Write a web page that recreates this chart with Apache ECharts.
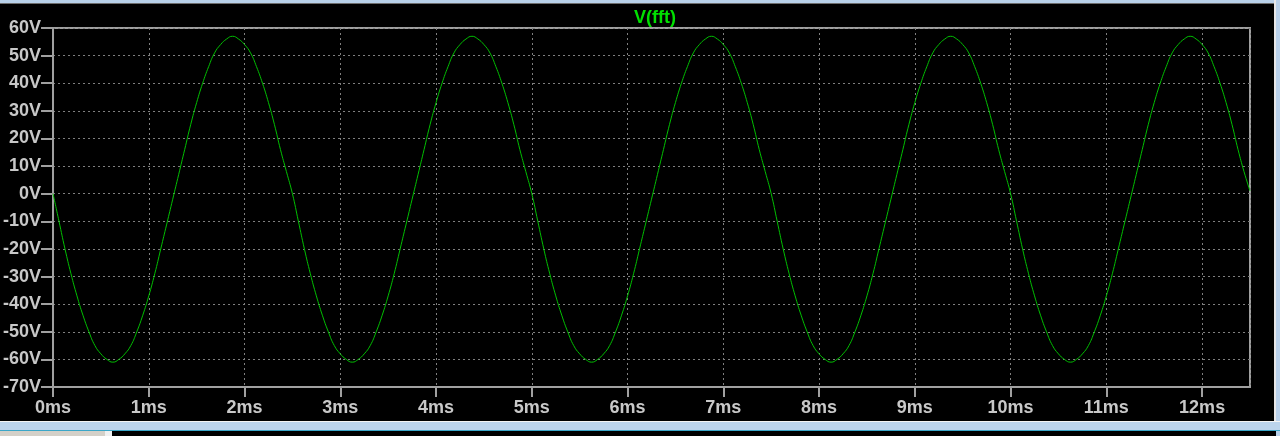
<!DOCTYPE html>
<html>
<head>
<meta charset="utf-8">
<script src="https://cdn.jsdelivr.net/npm/echarts@6/dist/echarts.min.js"></script>
<style>
  html, body { margin: 0; padding: 0; background: #000; }
  #main { position: absolute; left: 0; top: 0; width: 1280px; height: 436px; }
  .bar { position: absolute; }
</style>
</head>
<body>
<div id="main"></div>
<!-- window chrome around the plot -->
<div class="bar" style="left:0;top:0;width:1280px;height:3px;background:#b9d1ea"></div>
<div class="bar" style="left:0;top:3px;width:1274px;height:1px;background:#6d6d6d"></div>
<div class="bar" style="left:1274px;top:0;width:2px;height:422px;background:#e8e8e8"></div>
<div class="bar" style="left:1276px;top:0;width:4px;height:436px;background:#b9d1ea"></div>
<div class="bar" style="left:0;top:421px;width:1280px;height:1px;background:#f4f4f4"></div>
<div class="bar" style="left:0;top:422px;width:1280px;height:8px;background:#bcd4ec"></div>
<div class="bar" style="left:0;top:430px;width:1280px;height:1px;background:#3aa6c8"></div>
<div class="bar" style="left:0;top:431px;width:105px;height:5px;background:#d4d0c8"></div>
<div class="bar" style="left:105px;top:431px;width:7px;height:5px;background:#f0f0f0"></div>
<script>
// sample times in ms, one every 0.0625 ms from 0 to 12.5
const timeMs = []
for (let i = 0; i <= 200; i++) timeMs.push(i * 0.0625)

// voltage at those times
const volts = [
  0, -10, -20, -29, -37, -44, -50, -55, -58, -60,
  -61, -60, -58, -55, -50, -44, -37, -29, -20, -11,
  -2, 7, 16, 25, 33, 40, 46, 51, 54, 56,
  57, 56, 54, 51, 46, 40, 33, 25, 16, 8,
  0, -10, -20, -29, -37, -44, -50, -55, -58, -60,
  -61, -60, -58, -55, -50, -44, -37, -29, -20, -11,
  -2, 7, 16, 25, 33, 40, 46, 51, 54, 56,
  57, 56, 54, 51, 46, 40, 33, 25, 16, 8,
  0, -10, -20, -29, -37, -44, -50, -55, -58, -60,
  -61, -60, -58, -55, -50, -44, -37, -29, -20, -11,
  -2, 7, 16, 25, 33, 40, 46, 51, 54, 56,
  57, 56, 54, 51, 46, 40, 33, 25, 16, 8,
  0, -10, -20, -29, -37, -44, -50, -55, -58, -60,
  -61, -60, -58, -55, -50, -44, -37, -29, -20, -11,
  -2, 7, 16, 25, 33, 40, 46, 51, 54, 56,
  57, 56, 54, 51, 46, 40, 33, 25, 16, 8,
  0, -10, -20, -29, -37, -44, -50, -55, -58, -60,
  -61, -60, -58, -55, -50, -44, -37, -29, -20, -11,
  -2, 7, 16, 25, 33, 40, 46, 51, 54, 56,
  57, 56, 54, 51, 46, 40, 33, 25, 16, 8,
  1
]

const traceName = 'V(fft)'

const gray = '#a0a0a0'
const labelColor = '#c8c8c8'

const myChart = echarts.init(document.getElementById('main'))
myChart.setOption({
  backgroundColor: '#000',
  animation: false,
  title: {
    text: traceName,
    left: 650,
    top: 4,
    textAlign: 'center',
    textStyle: {
      color: '#00e000',
      fontSize: 18,
      fontWeight: 'bold',
      fontFamily: 'Liberation Sans'
    }
  },
  grid: {
    left: 51,
    top: 28,
    right: 30,
    bottom: 49,
    show: true,
    borderColor: gray,
    borderWidth: 2
  },
  xAxis: {
    type: 'value',
    min: 0,
    max: 12.5,
    interval: 1,
    axisLine: { show: true, onZero: false, lineStyle: { color: gray, width: 2 } },
    axisTick: { show: true, inside: false, length: 10, lineStyle: { color: gray, width: 2 } },
    axisLabel: {
      showMaxLabel: false,
      formatter: '{value}ms',
      color: labelColor,
      fontSize: 18,
      fontWeight: 'bold',
      fontFamily: 'Liberation Sans',
      margin: 12
    },
    splitLine: { show: true, lineStyle: { color: '#808080', type: [2, 3], width: 1 } }
  },
  yAxis: {
    type: 'value',
    min: -70,
    max: 60,
    interval: 10,
    axisLine: { show: true, onZero: false, lineStyle: { color: gray, width: 2 } },
    axisTick: { show: true, length: 12, lineStyle: { color: gray, width: 2 } },
    axisLabel: {
      formatter: '{value}V',
      color: labelColor,
      fontSize: 18,
      fontWeight: 'bold',
      fontFamily: 'Liberation Sans',
      margin: 12
    },
    splitLine: { show: true, lineStyle: { color: '#808080', type: [2, 3], width: 1 } }
  },
  series: [{
    name: traceName,
    type: 'line',
    smooth: true,
    showSymbol: false,
    lineStyle: { color: '#00c000', width: 1 },
    data: timeMs.map((t, i) => [t, volts[i]])
  }]
})
</script>
</body>
</html>
